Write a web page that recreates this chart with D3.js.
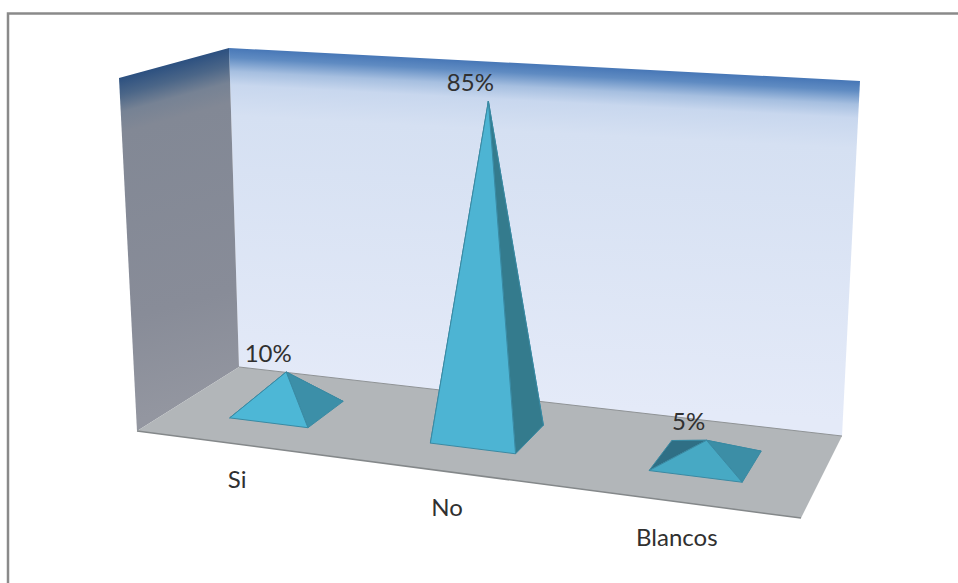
<!DOCTYPE html>
<html><head><meta charset="utf-8">
<style>html,body{margin:0;padding:0;background:#fff;overflow:hidden}svg{display:block}
text{font-family:Lato,"Open Sans",sans-serif;font-size:24px;fill:#303030}</style>
<script src="https://cdn.jsdelivr.net/npm/d3@7/dist/d3.min.js"></script>
</head><body><svg id="c" width="958" height="583"></svg>
<script>
const categories = ["Si", "No", "Blancos"];
const values = [0.10, 0.85, 0.05];
const axisMax = 0.91;

const W = 958, H = 583;
// frame of the 3D box: front-left, front-right, back-right, back-left
const floorQuad = [[137,431],[801,518],[842,436],[239,367]];
const wallTop = {frontLeft:[119,78], backLeft:[229,48], backRight:[860,81]};
const frontLeftHeight = 353;          // pixel height of the box at its front-left corner
const verticalVP = [471,7760];        // vanishing point of the vertical edges

function quadMap(q){
  const [[x0,y0],[x1,y1],[x2,y2],[x3,y3]] = q;
  const dx1=x1-x2, dx2=x3-x2, sx=x0-x1+x2-x3, dy1=y1-y2, dy2=y3-y2, sy=y0-y1+y2-y3;
  const den=dx1*dy2-dx2*dy1;
  const g=(sx*dy2-dx2*sy)/den, h=(dx1*sy-sx*dy1)/den;
  const a=x1-x0+g*x1, b=x3-x0+h*x3, c=x0, d=y1-y0+g*y1, e=y3-y0+h*y3, f=y0;
  return (u,v)=>{const w=g*u+h*v+1;return {x:(a*u+b*v+c)/w,y:(d*u+e*v+f)/w,w};};
}
const floorAt = quadMap(floorQuad);

const uScale = d3.scaleBand().domain(categories).range([0.005,1]).paddingInner(0.6).paddingOuter(0.3);
const vScale = d3.scaleLinear().domain([0,1]).range([0.3,0.69]);
const hScale = d3.scaleLinear().domain([0,axisMax]).range([0,1]);

function project(u,v,val){
  const p=floorAt(u,v), hpx=frontLeftHeight/p.w*hScale(val);
  return [p.x+(p.x-verticalVP[0])*hpx/(verticalVP[1]-p.y), p.y-hpx];
}
const svg = d3.select("#c");
const defs = svg.append("defs");
function grad(id,p1,p2,stops){
  const g=defs.append("linearGradient").attr("id",id).attr("gradientUnits","userSpaceOnUse")
    .attr("x1",p1[0]).attr("y1",p1[1]).attr("x2",p2[0]).attr("y2",p2[1]);
  stops.forEach(s=>g.append("stop").attr("offset",s[0]).attr("stop-color",s[1]));
}
grad("back",[545,64],[527,404],[[0,"#4676b6"],[0.03,"#5f8bc2"],[0.07,"#a6bfe0"],[0.11,"#c8d7ee"],[0.2,"#d5e0f2"],[1,"#e4eaf8"]]);
grad("left",[174,63],[262,386],[[0,"#2c5080"],[0.05,"#4b6688"],[0.1,"#768294"],[0.16,"#828895"],[0.7,"#888c98"],[1,"#9396a0"]]);

const line = d3.line();
const poly = (pts,fill,stroke)=>svg.append("path").attr("d",line(pts)+"Z").attr("fill",fill).attr("stroke",stroke||"none");

svg.append("rect").attr("x",8).attr("y",13.5).attr("width",W+20).attr("height",H+20)
  .attr("fill","#fff").attr("stroke","#8a8a8a").attr("stroke-width",2.5);

poly([wallTop.backLeft,wallTop.backRight,floorQuad[2],floorQuad[3]],"url(#back)");
poly([wallTop.frontLeft,wallTop.backLeft,floorQuad[3],floorQuad[0]],"url(#left)");
poly(floorQuad,"#b2b6b9");
svg.append("path").attr("d",line([floorQuad[3],floorQuad[2]])).attr("stroke","#8f9396").attr("stroke-width",1).attr("fill","none");
svg.append("path").attr("d",line([floorQuad[0],floorQuad[1]])).attr("stroke","#84888a").attr("stroke-width",1.5).attr("fill","none");

const frontFill = ["#4db7d6","#4db4d3","#47a9c4"];
const rightFill = ["#3c8fa8","#347b8d","#3c8ea6"];
const leftFill  = "#2f6f85";

categories.forEach((cat,i)=>{
  const u0=uScale(cat), u1=u0+uScale.bandwidth(), um=(u0+u1)/2;
  const v0=vScale(0), v1=vScale(1), vm=(v0+v1)/2;
  const FL=project(u0,v0,0), FR=project(u1,v0,0), BR=project(u1,v1,0), BL=project(u0,v1,0);
  const A=project(um,vm,values[i]);
  const st="#3a8aa3";
  poly([BL,BR,A],rightFill[i],st);
  poly([FL,BL,A],leftFill,st);
  poly([FR,BR,A],rightFill[i],st);
  poly([FL,FR,A],frontFill[i],st);
  svg.append("text").attr("x",A[0]-18).attr("y",A[1]-10).attr("text-anchor","middle").text(d3.format(".0%")(values[i]));
  const f=floorAt(um,0);
  svg.append("text").attr("x",f.x-1).attr("y",f.y+44).attr("text-anchor","middle").text(cat);
});
</script></body></html>
